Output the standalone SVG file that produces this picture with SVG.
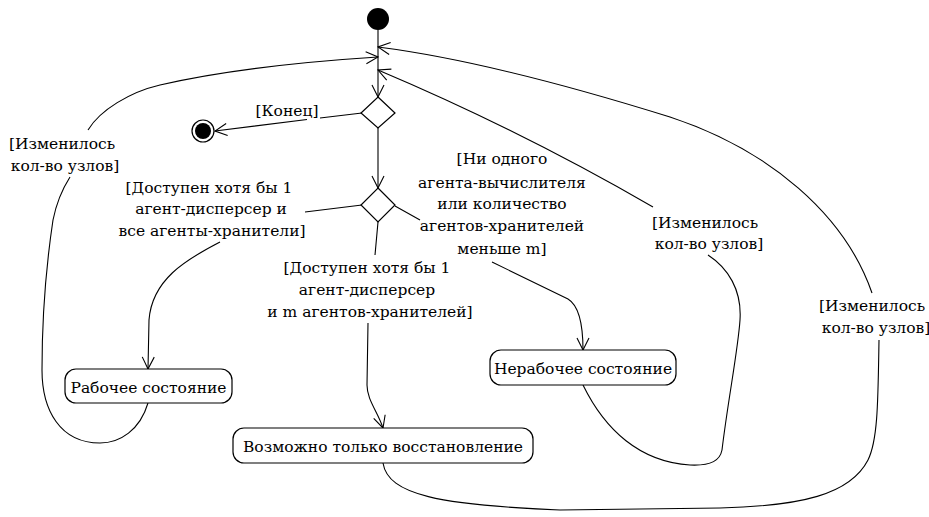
<svg xmlns="http://www.w3.org/2000/svg" width="929" height="517" viewBox="0 0 929 517">
<style>
text{font-family:'DejaVu Serif',serif;font-size:15.5px;fill:#000;text-anchor:middle}
.box{fill:#fff;stroke:#000;stroke-width:1.2}
.dia{fill:#fff;stroke:#000;stroke-width:1.2}
.c{fill:none;stroke:#000;stroke-width:1.1}
</style>
<defs>
<marker id="arr" markerUnits="userSpaceOnUse" viewBox="-13 -7 14 14" refX="0" refY="0" markerWidth="14" markerHeight="14" orient="auto">
<path d="M-12,-6 L0,0 L-12,6" fill="none" stroke="#000" stroke-width="1.1"/>
</marker>
</defs>
<rect width="929" height="517" fill="#fff"/>
<g id="connectors">
<path class="c" d="M378,30 L378,97" marker-end="url(#arr)"/>
<path class="c" d="M362,113 L320,118 M307,119.5 L215,131" marker-end="url(#arr)"/>
<path class="c" d="M378,128 L378,188" marker-end="url(#arr)"/>
<path class="c" d="M362,205 L305,212 M220,242 C185,260 152,280 149,320 L148,369" marker-end="url(#arr)"/>
<path class="c" d="M378,222 L375,255 M368,323 L367,385 C367,400 378,412 383,428" marker-end="url(#arr)"/>
<path class="c" d="M395,206 L420,220 M492,262 L568,299 C578,305 583,320 583,350" marker-end="url(#arr)"/>
<path class="c" d="M148,403 C140,430 120,443 100,443 C60,443 42,410 42,370 C42,300 50,240 53,220 C57,200 63,188 70,177 M88,130 C100,110 130,92 160,85 C225,70 300,62 378,57" marker-end="url(#arr)"/>
<path class="c" d="M583,385 C605,430 640,462 690,465 C712,466 720,460 722,450 C728,400 738,350 740,320 C742,290 728,268 708,255 M653,207 Q520,130 378,70" marker-end="url(#arr)"/>
<path class="c" d="M383,463 C388,495 440,505 560,510 L720,508 C800,506 850,495 868,460 C878,440 878,400 879,340 M872,293 C845,215 770,150 670,117 C590,92 480,60 378,47" marker-end="url(#arr)"/>
</g>
<g id="labels">
<text x="287" y="116">[Конец]</text>
<text x="62" y="149">[Изменилось</text>
<text x="65" y="171">кол-во узлов]</text>
<text x="209" y="193">[Доступен хотя бы 1</text>
<text x="211" y="214">агент-дисперсер и</text>
<text x="212" y="236">все агенты-хранители]</text>
<text x="367" y="273">[Доступен хотя бы 1</text>
<text x="367" y="295">агент-дисперсер</text>
<text x="370" y="317">и m агентов-хранителей]</text>
<text x="502" y="164">[Ни одного</text>
<text x="502" y="188">агента-вычислителя</text>
<text x="502" y="209">или количество</text>
<text x="502" y="231">агентов-хранителей</text>
<text x="502" y="254">меньше m]</text>
<text x="705" y="228">[Изменилось</text>
<text x="709" y="249">кол-во узлов]</text>
<text x="872" y="311">[Изменилось</text>
<text x="876" y="333">кол-во узлов]</text>
</g>
<g id="initial"><circle cx="378" cy="19" r="11" fill="#000"/></g>
<g id="final"><circle cx="203" cy="131" r="11" fill="#fff" stroke="#000" stroke-width="1.2"/><circle cx="203" cy="131" r="8" fill="#000"/></g>
<g id="decision1"><polygon class="dia" points="378,97 395,113 378,128 361,113"/></g>
<g id="decision2"><polygon class="dia" points="378,188 395,205 378,222 361,205"/></g>
<g id="working"><rect class="box" x="65" y="369" width="167" height="34" rx="11"/><text x="148.5" y="393">Рабочее состояние</text></g>
<g id="recovery"><rect class="box" x="233" y="428" width="300" height="35" rx="11"/><text x="383" y="452">Возможно только восстановление</text></g>
<g id="nonworking"><rect class="box" x="490" y="350" width="186" height="35" rx="11"/><text x="583" y="374">Нерабочее состояние</text></g>
</svg>
